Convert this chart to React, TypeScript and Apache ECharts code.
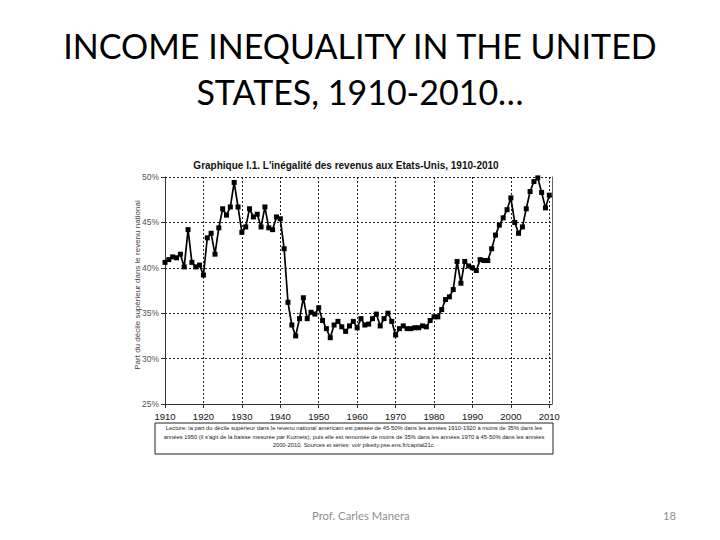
import React, { useEffect, useRef } from "react";
import * as echarts from "echarts";

const startYear = 1910;
// Top decile share of US national income (%), 1910-2010
const shares = [
  40.6, 40.9, 41.2, 41.1, 41.5, 40.1, 44.2, 40.6, 40.1, 40.3,
  39.2, 43.3, 43.8, 41.5, 44.4, 46.5, 45.8, 46.7, 49.4, 46.7,
  43.9, 44.5, 46.5, 45.6, 45.9, 44.5, 46.7, 44.4, 44.2, 45.6,
  45.4, 42.1, 36.2, 33.7, 32.5, 34.4, 36.7, 34.4, 35.1, 34.9,
  35.6, 34.2, 33.3, 32.3, 33.7, 34.1, 33.5, 33.0, 33.6, 34.1,
  33.4, 34.4, 33.7, 33.8, 34.4, 34.9, 33.6, 34.4, 35.0, 34.1,
  32.6, 33.3, 33.6, 33.3, 33.3, 33.4, 33.4, 33.6, 33.5, 34.2,
  34.6, 34.6, 35.4, 36.5, 36.8, 37.6, 40.7, 38.3, 40.7, 40.2,
  40.0, 39.7, 40.9, 40.8, 40.8, 42.1, 43.6, 44.7, 45.5, 46.4,
  47.7, 45.0, 43.8, 44.5, 46.5, 48.4, 49.5, 49.9, 48.3, 46.6,
  48.0,
];

const slideTitle = ["INCOME INEQUALITY IN THE UNITED", "STATES, 1910-2010…"];
const chartTitle = "Graphique I.1. L'inégalité des revenus aux Etats-Unis, 1910-2010";
const yAxisName = "Part du décile supérieur dans le revenu national";
const captionLines = [
  "Lecture: la part du décile supérieur dans le revenu national américain est passée de 45-50% dans les années 1910-1920 à moins de 35% dans les",
  "années 1950 (il s'agit de la baisse mesurée par Kuznets); puis elle est remontée de moins de 35% dans les années 1970 à 45-50% dans les années",
  "2000-2010. Sources et séries: voir piketty.pse.ens.fr/capital21c.",
];
const footer = "Prof. Carles Manera";
const pageNumber = "18";

export default function App() {
  const ref = useRef<HTMLDivElement>(null);
  useEffect(() => {
    if (!ref.current) return;
    const chart = echarts.init(ref.current, null, { renderer: "svg" });
    const data = shares.map((v, i) => [startYear + i, v]);
    const dotted = { color: "#222", type: [2, 2], width: 1 };
    chart.setOption({
      animation: false,
      backgroundColor: "#fff",
      grid: { left: 165, right: 168, top: 177, bottom: 136 },
      xAxis: {
        type: "value",
        min: 1910,
        max: 2010.7,
        interval: 10,
        axisLine: { show: true, lineStyle: { color: "#333", width: 1 } },
        axisTick: { show: true, length: 4, lineStyle: { color: "#333" } },
        axisLabel: {
          color: "#111",
          fontSize: 9.5,
          margin: 7,
          fontFamily: "Liberation Sans",
          showMaxLabel: false,
          formatter: (v: number) => String(v),
        },
        splitLine: { show: true, lineStyle: dotted },
      },
      yAxis: [
        {
          type: "value",
          min: 25,
          max: 50,
          interval: 5,
          position: "left",
          axisLine: { show: true, lineStyle: { color: "#333", width: 1 } },
          axisTick: { show: true, length: 4, lineStyle: { color: "#333" } },
          axisLabel: {
            formatter: "{value}%",
            fontSize: 8.5,
            color: "#555",
            margin: 6,
            fontFamily: "Liberation Sans",
          },
          splitLine: { show: true, lineStyle: dotted },
        },
        {
          type: "value",
          min: 25,
          max: 50,
          interval: 5,
          position: "right",
          axisLine: { show: true, lineStyle: { color: "#666", width: 1 } },
          axisTick: { show: false },
          axisLabel: { show: false },
          splitLine: { show: false },
        },
      ],
      series: [
        {
          type: "line",
          data,
          yAxisIndex: 0,
          symbol: "rect",
          symbolSize: 5,
          showSymbol: true,
          lineStyle: { color: "#000", width: 1.7 },
          itemStyle: { color: "#000" },
          z: 5,
        },
      ],
      graphic: [
        {
          type: "text",
          x: 360,
          y: 45,
          style: {
            text: slideTitle[0],
            font: "34px Lato",
            fill: "#000",
            align: "center",
            verticalAlign: "middle",
          },
        },
        {
          type: "text",
          x: 360,
          y: 91,
          style: {
            text: slideTitle[1],
            font: "34px Lato",
            fill: "#000",
            align: "center",
            verticalAlign: "middle",
          },
        },
        {
          type: "text",
          x: 346,
          y: 165,
          style: {
            text: chartTitle,
            font: "bold 10px 'Liberation Sans'",
            fill: "#111",
            align: "center",
            verticalAlign: "middle",
          },
        },
        {
          type: "text",
          x: 137,
          y: 285,
          rotation: Math.PI / 2,
          style: {
            text: yAxisName,
            font: "8px 'Liberation Sans'",
            fill: "#444",
            align: "center",
            verticalAlign: "middle",
          },
        },
        {
          type: "rect",
          shape: { x: 155, y: 423, width: 398, height: 31 },
          style: { fill: "#fff", stroke: "#222", lineWidth: 1 },
        },
        ...captionLines.map((t, i) => ({
          type: "text",
          x: 354,
          y: 428 + i * 8.5,
          style: {
            text: t,
            font: "5.8px 'Liberation Sans'",
            fill: "#222",
            align: "center",
            verticalAlign: "middle",
          },
        })),
        {
          type: "text",
          x: 312,
          y: 515,
          style: {
            text: footer,
            font: "11.3px Lato",
            fill: "#8f8f8f",
            align: "left",
            verticalAlign: "middle",
          },
        },
        {
          type: "text",
          x: 676,
          y: 515,
          style: {
            text: pageNumber,
            font: "11.3px Lato",
            fill: "#8f8f8f",
            align: "right",
            verticalAlign: "middle",
          },
        },
      ],
    });
    return () => chart.dispose();
  }, []);
  return (
    <div
      ref={ref}
      style={{ position: "absolute", left: 0, top: 0, width: 720, height: 540, background: "#fff" }}
    />
  );
}
